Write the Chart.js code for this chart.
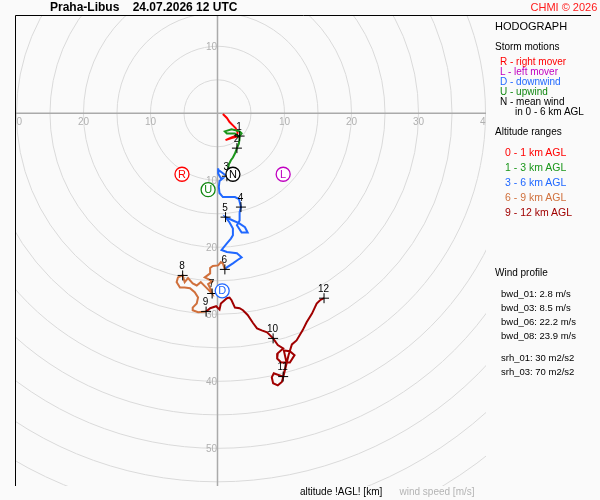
<!DOCTYPE html>
<html>
<head>
<meta charset="utf-8">
<script src="https://cdn.jsdelivr.net/npm/chart.js@4.4.1/dist/chart.umd.min.js"></script>
<style>
  html, body { margin: 0; padding: 0; background: #fafafa; }
  #wrap { position: relative; width: 600px; height: 500px; font-family: "Liberation Sans", Arial, sans-serif; }
  #wrap canvas { position: absolute; left: 0; top: 0; }
  .t { position: absolute; white-space: pre; line-height: 12px; }
</style>
</head>
<body>
<div id="wrap">
  <canvas id="hodo" width="600" height="500"></canvas>
</div>
<script>
// wind components along the profile [m/s], one pair of arrays per altitude range
const layer01U = [0.8, 1.4, 1.8, 2.3, 2.7, 3.0, 2.9, 2.1, 1.2, 2.1, 3.3];
const layer01V = [-0.1, -0.7, -1.3, -1.8, -2.2, -2.8, -3.3, -3.6, -4.0, -3.7, -3.4];

const layer13U = [3.3, 3.6, 3.3, 2.1, 1.1, 1.4, 2.6, 3.3, 3.2, 2.9, 2.6, 2.3, 2.0, 1.7, 1.4];
const layer13V = [-3.4, -3.0, -2.7, -2.4, -2.7, -3.0, -3.0, -3.6, -4.5, -5.2, -6.0, -6.6, -7.0, -7.6, -9.4];

const layer36U = [1.4, 0.2, 0.1, 0.1, 0.5, 0.8, 0.3, 0.2, 0.3, 0.8, 2.6, 3.2, 3.5, 3.3, 3.3, 2.9, 3.6, 4.5,
  4.1, 3.2, 2.3, 1.2, 1.8, 2.3, 2.3, 2.0, 1.4, 0.6, 1.4, 2.9, 3.6, 3.0, 2.3, 1.4, 1.1];
const layer36V = [-9.4, -8.5, -8.2, -9.0, -9.7, -9.7, -10.1, -11.0, -11.9, -12.5, -12.5, -12.8, -14.0, -14.8,
  -16.0, -16.7, -17.8, -17.8, -17.0, -16.4, -16.0, -15.5, -16.3, -17.2, -18.2, -18.7, -19.4, -20.4, -20.7,
  -20.9, -21.5, -21.9, -22.4, -23.0, -23.3];

const layer69U = [1.1, 0.8, 0.5, 0.1, -0.7, -1.1, -1.1, -1.9, -1.3, -0.8, -1.4, -1.0, -0.8, -1.9, -2.5, -3.1,
  -3.7, -4.4, -4.9, -5.2, -5.9, -6.1, -5.6, -4.9, -4.1, -3.4, -2.9, -3.1, -3.7, -3.7, -2.9, -1.7];
const layer69V = [-23.3, -22.4, -22.2, -22.7, -22.8, -23.1, -23.9, -24.5, -24.8, -25.1, -25.5, -26.3, -26.9,
  -25.8, -25.2, -25.7, -25.4, -24.6, -25.2, -24.2, -24.5, -25.2, -26.0, -26.0, -26.1, -26.7, -27.5, -28.4,
  -29.0, -29.4, -29.7, -29.6];

const layer912U = [-1.7, -1.1, -0.2, 0.3, 0.5, 1.4, 1.8, 2.1, 2.6, 3.3, 3.8, 4.5, 5.3, 5.9, 6.6, 7.4, 8.3, 9.0,
  9.8, 9.0, 8.9, 9.5, 10.8, 11.5, 10.8, 9.9, 10.3, 9.8, 8.4, 8.1, 8.3, 9.0, 9.6, 9.8, 10.2, 10.6, 11.1, 11.8,
  12.7, 13.3, 14.1, 14.8, 15.3, 15.9];
const layer912V = [-29.6, -29.1, -28.8, -29.3, -28.4, -27.6, -27.5, -27.9, -29.0, -29.1, -29.4, -30.1, -31.3,
  -32.1, -32.4, -32.7, -33.6, -34.6, -35.1, -35.8, -36.6, -37.2, -37.2, -36.1, -35.5, -35.4, -37.2, -39.3,
  -38.8, -39.4, -40.3, -40.6, -40.1, -39.4, -37.8, -36.1, -34.5, -33.9, -32.4, -31.2, -29.9, -28.4, -27.9, -27.6];

// whole-km marks
const kmLabels = ['1', '2', '3', '4', '5', '6', '7', '8', '9', '10', '11', '12'];
const kmU = [3.3, 2.9, 1.4, 3.5, 1.2, 1.1, -0.8, -5.2, -1.7, 8.3, 9.8, 15.9];
const kmV = [-3.4, -5.2, -9.4, -14.0, -15.5, -23.3, -26.9, -24.2, -29.6, -33.6, -39.3, -27.6];

// storm motions
const stormLetters = ['R', 'L', 'D', 'U', 'N'];
const stormU = [-5.3, 9.8, 0.7, -1.4, 2.3];
const stormV = [-9.1, -9.1, -26.5, -11.4, -9.1];

// speed rings and axis labels [m/s]
const ringSpeeds = [5, 10, 15, 20, 25, 30, 35, 40, 45, 50, 55, 60, 65, 70];
const uTicks = [-30, -20, -10, 10, 20, 30, 40];
const vTicks = [10, -10, -20, -30, -40, -50];

// side panel texts
const stormNames = ['R - right mover', 'L - left mover', 'D - downwind', 'U - upwind', 'N - mean wind'];
const altitudeRanges = ['0 - 1 km AGL', '1 - 3 km AGL', '3 - 6 km AGL', '6 - 9 km AGL', '9 - 12 km AGL'];
const bwdNames = ['bwd_01', 'bwd_03', 'bwd_06', 'bwd_08'];
const bwdValues = [2.8, 8.5, 22.2, 23.9];
const srhNames = ['srh_01', 'srh_03'];
const srhValues = [30, 70];

const layerColors = ['#ff0000', '#1a961a', '#2068ff', '#d0703c', '#a00000'];
const stormColors = ['#ff0000', '#c000c0', '#2068ff', '#118811', '#000000'];

const FONT = '"Liberation Sans", Arial, sans-serif';
const pts = (us, vs) => us.map((u, i) => ({ x: u, y: vs[i] }));

const layers = [
  pts(layer01U, layer01V),
  pts(layer13U, layer13V),
  pts(layer36U, layer36V),
  pts(layer69U, layer69V),
  pts(layer912U, layer912V)
];

const hodoGrid = {
  id: 'hodoGrid',
  beforeDatasetsDraw(chart) {
    const { ctx, chartArea: a, scales: { x, y } } = chart;
    const x0 = x.getPixelForValue(0);
    const y0 = y.getPixelForValue(0);
    const k = x.getPixelForValue(1) - x0;
    ctx.save();
    ctx.beginPath();
    ctx.rect(a.left, a.top, a.right - a.left, a.bottom - a.top);
    ctx.clip();
    ctx.strokeStyle = '#dadada';
    ctx.lineWidth = 1;
    ringSpeeds.forEach(s => {
      ctx.beginPath();
      ctx.arc(x0, y0, s * k, 0, 2 * Math.PI);
      ctx.stroke();
    });
    ctx.strokeStyle = '#aaaaaa';
    ctx.lineWidth = 1.5;
    ctx.beginPath();
    ctx.moveTo(a.left, y0); ctx.lineTo(a.right, y0);
    ctx.moveTo(x0, a.top); ctx.lineTo(x0, a.bottom);
    ctx.stroke();
    ctx.fillStyle = '#b0b0b0';
    ctx.font = '10px ' + FONT;
    ctx.textBaseline = 'middle';
    ctx.textAlign = 'center';
    uTicks.forEach(t => ctx.fillText(String(Math.abs(t)), x.getPixelForValue(t), y0 + 8.5));
    ctx.textAlign = 'right';
    vTicks.forEach(t => ctx.fillText(String(Math.abs(t)), x0 - 0.5, y.getPixelForValue(t) + 0.5));
    ctx.restore();

    // frame: left and top
    ctx.save();
    ctx.strokeStyle = '#000';
    ctx.lineWidth = 1;
    ctx.beginPath();
    ctx.moveTo(a.left + 0.5, a.bottom);
    ctx.lineTo(a.left + 0.5, a.top + 0.5);
    ctx.lineTo(591, a.top + 0.5);
    ctx.stroke();
    ctx.restore();
  },
  afterDatasetDraw(chart, args) {
    const { ctx } = chart;
    const ds = chart.data.datasets[args.index];
    if (!ds.markText) return;
    ctx.save();
    ctx.textAlign = 'center';
    ctx.textBaseline = 'middle';
    args.meta.data.forEach((el, i) => {
      if (ds.markText === 'km') {
        ctx.fillStyle = '#000';
        ctx.font = '10px ' + FONT;
        ctx.fillText(kmLabels[i], el.x - 0.5, el.y - 9);
      } else {
        ctx.fillStyle = stormColors[i];
        ctx.font = '11px ' + FONT;
        ctx.fillText(stormLetters[i], el.x, el.y + 0.5);
      }
    });
    ctx.restore();
  }
};

const lineSets = layers.map((data, i) => ({
  data: data,
  showLine: true,
  borderColor: layerColors[i],
  borderWidth: 2,
  pointRadius: 0,
  tension: 0,
  order: 10 - i
}));

new Chart(document.getElementById('hodo'), {
  type: 'scatter',
  data: {
    datasets: lineSets.concat([
      {
        data: pts(kmU, kmV),
        markText: 'km',
        pointStyle: 'cross',
        pointRadius: 5,
        borderColor: '#000',
        borderWidth: 1,
        showLine: false,
        order: 2
      },
      {
        data: pts(stormU, stormV),
        markText: 'storm',
        pointStyle: 'circle',
        pointRadius: 7,
        backgroundColor: '#ffffff',
        borderColor: stormColors,
        borderWidth: 1.3,
        showLine: false,
        order: 1
      }
    ])
  },
  options: {
    responsive: false,
    animation: false,
    layout: { padding: { left: 15, top: 15, right: 114, bottom: 14 } },
    scales: {
      x: { type: 'linear', min: -30.22, max: 40.07, display: false },
      y: { type: 'linear', min: -55.63, max: 14.67, display: false }
    },
    plugins: {
      legend: { display: false },
      tooltip: { enabled: false }
    }
  },
  plugins: [hodoGrid]
});

// texts round the plot
const wrap = document.getElementById('wrap');
function addText(text, left, midY, size, color, bold) {
  const d = document.createElement('div');
  d.className = 't';
  d.textContent = text;
  d.style.left = left + 'px';
  d.style.top = (midY - 6) + 'px';
  d.style.fontSize = size + 'px';
  d.style.color = color || '#000';
  if (bold) d.style.fontWeight = 'bold';
  wrap.appendChild(d);
}

addText('Praha-Libus    24.07.2026 12 UTC', 50, 7.3, 12, '#000', true);
addText('CHMI \u00a9 2026', 530.5, 6.5, 11, '#ff1a1a');
addText('HODOGRAPH', 495, 26, 11);
addText('Storm motions', 495, 46.7, 10);
stormNames.forEach((s, i) => addText(s, 500, 61.7 + 10 * i, 10, stormColors[i]));
addText('in 0 - 6 km AGL', 515, 111.5, 10);
addText('Altitude ranges', 495, 131.7, 10);
altitudeRanges.forEach((s, i) => addText(s, 505, 151.7 + 15 * i, 10.5, layerColors[i]));
addText('Wind profile', 495, 273.3, 10);
bwdNames.forEach((s, i) => addText(s + ': ' + bwdValues[i].toFixed(1) + ' m/s', 501, 294 + 14.1 * i, 9.5));
srhNames.forEach((s, i) => addText(s + ': ' + srhValues[i] + ' m2/s2', 501, 357.7 + 14.1 * i, 9.5));
addText('altitude !AGL! [km]', 300, 491.7, 10);
addText('wind speed [m/s]', 399.5, 491.7, 10, '#b4b4b4');
</script>
</body>
</html>
